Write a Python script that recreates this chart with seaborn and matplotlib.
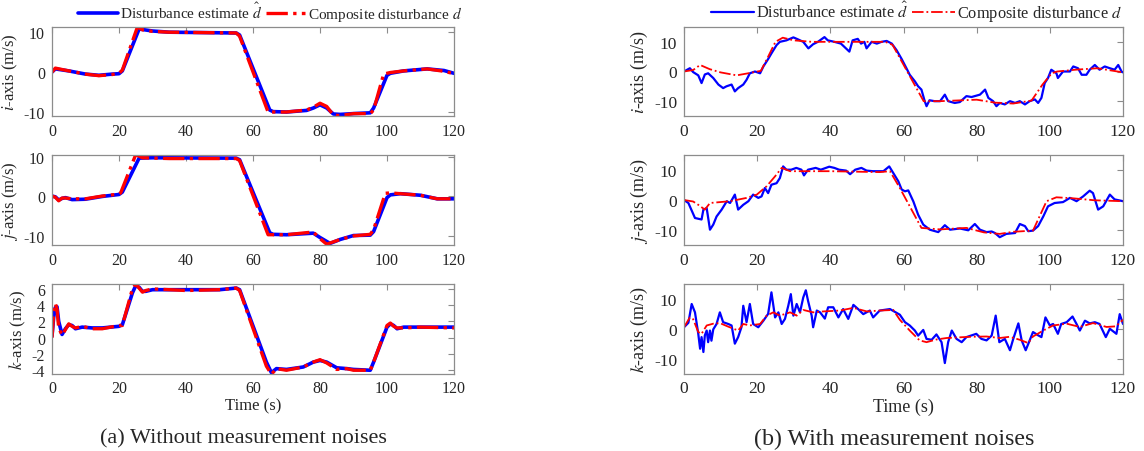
import matplotlib
matplotlib.use('Agg')
import matplotlib.pyplot as plt
import seaborn as sns
from matplotlib.lines import Line2D

# ---------------- data ----------------
# (a) without measurement noises
LI_T_B = [0,1,5,10,14,18,20,21,26,30,35,45,55,56,65,66,70,76,78,80,82,84,86,90,95,96,100,101,105,112,117,120]
LI_B = [0,0.8,0.3,-0.5,-0.8,-0.5,-0.4,0.3,10.8,10.3,10.0,9.9,9.8,9.3,-9.5,-9.9,-10,-9.6,-9.0,-8.2,-9.0,-10.5,-10.6,-10.4,-10.2,-9.0,-0.8,-0.3,0.3,0.8,0.4,-0.3]
LI_T_R = [0,1,5,10,14,18,20,21,25.5,27,30,35,55,56,64.5,66,70,76,78,80,82,84,86,90,95,96,99,101,105,112,117,120]
LI_R = [0,1.0,0.3,-0.5,-0.9,-0.6,-0.3,0.5,11.3,10.6,10.2,10.0,9.8,9.0,-10.0,-10.0,-10.0,-9.5,-8.8,-7.8,-8.6,-10.8,-10.9,-10.4,-10.4,-9.5,-0.5,-0.1,0.3,0.8,0.2,-0.4]

LJ_T_B = [0,1,2,3,4,6,10,15,20,21,26,30,55,56,65,66,70,78,80,83,86,90,95,96,100,101,104,110,115,120]
LJ_B = [0,-0.2,-1.0,-0.6,-0.4,-0.9,-0.8,-0.1,0.4,1.0,9.6,9.7,9.6,9.2,-9.3,-9.7,-9.8,-9.4,-10.5,-12.0,-11.0,-10.0,-9.9,-9.0,-0.4,0.3,0.6,0.2,-0.7,-0.7]
LJ_T_R = [0,1,2,3,4,6,10,15,20,20.5,25,27,35,55,56,64.5,70,78,80,82,86,90,95,96,99.5,101,104,110,115,120]
LJ_R = [0,-0.3,-1.2,-0.5,-0.5,-0.7,-0.7,0.0,0.5,0.8,10.5,9.7,9.5,9.5,9.0,-9.8,-9.8,-9.1,-10.8,-12.2,-11.0,-10.1,-9.7,-8.5,0.7,0.8,0.6,0.2,-0.7,-0.7]

LK_T = [0,0.5,1,1.5,2,3,4,5,6,7,9,12,15,20,21,24,25,26,27,28,30,40,50,55,56,64,65.5,67,70,75,78,80,82,85,88,90,95,96,100,101,102,103,105,110,120]
LK_B = [0.2,2.5,3.7,3.8,2.0,0.4,1.1,1.6,1.5,1.1,1.3,1.2,1.2,1.4,1.6,5.5,6.4,6.2,5.7,5.7,5.9,5.9,5.9,6.1,5.9,-3.0,-4.3,-3.8,-3.9,-3.6,-3.0,-2.8,-3.0,-3.7,-3.8,-3.9,-4.0,-3.0,1.3,1.7,1.5,1.1,1.3,1.3,1.3]
LK_R = [0.0,3.0,4.2,3.5,1.2,0.3,1.0,1.7,1.4,1.2,1.4,1.1,1.1,1.5,1.5,6.0,6.6,6.1,5.6,5.8,6.0,5.8,5.9,6.1,5.8,-3.5,-4.5,-3.8,-4.0,-3.6,-3.0,-2.7,-3.1,-3.9,-3.8,-4.0,-4.0,-3.0,1.5,1.8,1.4,1.2,1.2,1.3,1.2]

# (b) with measurement noises
RI_T_B = [0,1.6,2.5,3.9,4.8,5.7,6.6,8.0,9.4,10.7,11.6,13.0,13.9,14.8,16.2,17.1,18.0,19.4,20.8,21.7,
          23.0,23.9,25.3,26.2,28.0,29.9,31.2,32.6,34.0,35.3,36.6,38.4,39.3,41.1,42.9,45.2,46.1,47.5,48.4,49.3,
          49.9,51.3,52.7,54.0,55.4,56.8,58.1,59.5,60.8,61.7,63.1,64.0,64.9,65.8,66.3,67.1,68.5,70.0,71.3,72.2,
          74.0,75.4,77.2,78.6,80.9,82.3,83.2,84.5,85.4,86.3,87.7,89.1,90.5,91.8,93.2,94.5,95.9,96.8,97.7,98.6,
          99.5,100.4,101.8,102.2,103.6,105.5,106.4,107.7,108.7,110.0,110.9,112.3,113.6,115.0,116.4,117.7,118.7,119.6,120]
RI_B = [0,1.1,-0.2,-1.3,-3.9,-1.0,-0.6,-2.2,-4.4,-5.6,-5.0,-4.4,-6.7,-5.6,-4.4,-2.8,-0.6,0,-0.6,1.7,
        4.2,6.1,8.9,10.0,10.5,11.5,10.8,10.0,7.8,9.2,10.0,11.6,10.5,10.0,9.4,6.7,10.5,11.0,9.4,10.0,
        7.8,10.0,9.4,10.0,10.3,9.4,7.2,4.2,1.1,-1.1,-3.3,-5.0,-6.1,-10.0,-11.7,-9.7,-10.0,-10.0,-7.8,-10.0,
        -10.6,-10.3,-8.3,-8.6,-7.8,-6.1,-8.9,-10.0,-11.7,-10.6,-11.1,-10.0,-10.6,-10.0,-11.1,-10.0,-9.4,-10.6,-8.9,-3.9,
        -2.2,0.6,-0.6,-2.2,0,0,1.7,1.1,-1.1,-1.1,0.6,2.2,0.6,1.7,1.1,0.6,2.2,0,-0.3]
RI_T_R = [0,2.5,4.4,7,10,14.4,18,20,21,23,25,27,30,35,55,57,65.5,70,80,85,90,95,98,100.5,102,107,113,120]
RI_R = [0,0.5,2.2,0.8,-0.3,-1.3,-0.5,0,0.2,5,10,11.4,10.5,10,10,9,-10,-10,-9.5,-10.5,-10.8,-9.8,-4.4,-0.6,0,0.6,1.1,-0.3]

RJ_T_B = [0,1.2,3.0,4.8,5.3,6.2,7.1,8.0,8.9,10.3,11.7,12.6,13.9,14.8,16.2,17.6,18.9,20.3,21.2,22.1,
          23.0,23.9,25.3,26.2,27.1,28.0,29.3,30.7,32.1,32.8,33.9,36.0,37.4,39.7,41.1,42.4,44.3,45.4,46.8,48.5,
          49.9,51.7,54.5,56.1,57.2,58.6,59.5,60.4,61.3,62.7,64.0,65.4,67.2,69.5,71.3,72.7,75.4,77.7,79.5,80.9,
          82.7,84.1,85.0,86.3,88.1,90.5,91.8,93.2,94.1,95.4,96.8,98.2,99.5,101.3,103.6,105.5,107.3,109.1,110.9,111.8,
          113.2,114.6,116.4,117.7,120]
RJ_B = [0,-1.0,-6.0,-6.5,-3.2,-2.7,-9.9,-8.2,-5.5,-3.2,-0.4,-1.0,1.8,-3.2,-1.6,-0.4,1.8,0.7,1.2,4.0,
        2.3,5.1,5.6,7.3,11.2,10.1,10.1,10.7,10.1,8.2,10.1,10.7,10.1,11.1,10.7,10.1,9.8,8.6,10.1,10.7,
        9.8,9.6,9.6,11.2,9.0,6.2,3.5,2.9,3.2,-0.5,-4.9,-8.2,-9.9,-10.7,-8.4,-9.9,-9.5,-10.1,-8.0,-9.9,
        -10.7,-10.5,-11.0,-12.4,-11.3,-11.0,-8.0,-8.7,-10.4,-10.2,-8.7,-5.5,-2.1,-1.0,-0.7,0.7,-0.4,1.2,3.1,2.3,
        -3.2,-2.1,1.8,0.2,-0.4]
RJ_T_R = [0,2.5,3.9,5.7,7.1,12.6,17.1,19.9,22.6,24.9,26.7,29,40,53.5,56.3,59,64.9,70,77.2,82,86.3,90,95.4,99.1,101.8,106,112.3,120]
RJ_R = [0,-0.5,-1.6,-3.2,-1.0,-0.4,0.7,1.8,4.6,7.9,10.7,9.6,9.6,9.3,9.6,4.0,-9.3,-9.8,-9.3,-10.8,-11.3,-10.6,-10.2,-0.4,0.9,0.6,-0.1,-0.4]

RK_T_B = [0,1.2,2.1,3.0,3.9,4.4,4.8,5.3,5.7,6.2,6.6,7.1,7.5,8.0,8.9,9.8,10.7,12.1,13.0,13.9,
          14.8,15.7,16.2,17.1,18.0,18.9,20.3,21.7,23.0,23.9,24.9,25.8,26.7,27.6,28.5,29.2,29.9,30.8,31.7,32.6,
          33.3,33.9,34.9,35.3,36.3,37.2,38.5,39.4,40.8,42.2,43.5,44.9,46.3,47.6,49.0,50.8,51.7,53.5,56.3,59.0,
          60.4,61.7,63.1,64.0,65.4,66.3,67.7,69.0,70.4,71.3,72.2,73.2,74.5,75.9,77.2,79.9,81.3,82.7,84.1,85.2,
          86.2,87.7,89.1,90.0,91.4,92.3,93.4,94.3,95.4,96.8,97.7,98.8,100.0,100.9,102.2,103.1,104.6,106.2,107.3,108.2,
          109.6,110.9,112.3,113.6,115.3,116.4,118.2,119.1,120]
RK_B = [0.5,2.0,8.3,5.5,-1.7,-6.7,-2.8,-7.8,-2.2,-0.6,-4.5,-0.6,-4.0,-0.2,1.6,5.5,2.2,1.6,1.1,-5.0,
        -2.8,0.5,7.7,2.2,8.3,1.6,0.5,2.7,5.0,12.2,3.8,5.5,1.6,3.3,7.7,11.6,4.4,8.3,5.5,10.5,
        12.9,9.4,4.4,0.5,6.1,5.5,3.4,7.2,7.2,3.8,6.6,3.3,8.0,6.6,4.9,6.1,3.8,6.1,6.6,4.7,
        2.2,1.1,-0.6,-2.3,-0.4,-3.4,-3.7,-1.9,-4.5,-11.5,-4.5,-0.6,-3.4,-4.5,-2.8,-1.7,-3.4,-3.9,-2.3,4.4,
        -4.5,-3.4,-7.2,-3.4,1.8,-3.9,-7.2,-4.5,-1.1,-2.2,-2.8,3.8,1.1,1.6,-1.7,1.6,2.2,4.1,1.6,-0.6,
        2.7,1.8,2.2,1.6,-2.8,0.0,-1.7,4.9,1.6]
RK_T_R = [0,1.6,2.5,3.9,4.8,6.2,8.0,9.8,12.1,14.8,16.2,18.0,20.8,22.6,24.4,26.2,29.0,30.8,32.6,35.3,
          38.0,42.6,46.3,50.0,53.5,57.2,59.0,61.7,64.4,66.3,69.0,71.8,75.0,78.0,82.7,86.3,89.0,91.8,94.1,95.4,
          98.2,100.9,104.6,108.2,111.8,115.5,118.0,120]
RK_R = [0.5,3.8,3.2,-1.1,-1.7,1.1,1.7,1.9,0.7,-0.6,1.6,1.1,1.6,4.4,5.5,4.4,5.5,4.4,6.3,5.5,
        5.8,6.1,7.0,5.8,6.1,6.3,3.0,-0.6,-3.9,-4.5,-3.6,-3.1,-2.9,-2.7,-2.6,-3.1,-2.7,-3.7,-4.8,-2.6,
        -0.6,1.1,1.7,0.6,1.9,0.6,0.8,3.0]

X_TICKS = [0, 20, 40, 60, 80, 100, 120]
Y_LABELS = ['$i$-axis (m/s)', '$j$-axis (m/s)', '$k$-axis (m/s)']
LEGEND_LABELS = ['Disturbance estimate $\\hat{d}$', 'Composite disturbance $d$']
CAPTIONS = ['(a) Without measurement noises', '(b) With measurement noises']

# ---------------- styling ----------------
sns.set_theme(style='white')
plt.rcParams['font.family'] = ['Liberation Serif', 'DejaVu Serif']
plt.rcParams['mathtext.fontset'] = 'stix'
plt.rcParams['axes.unicode_minus'] = False

BLUE = '#0000FF'
RED = '#FF0000'
SPINE = '#8c8c8c'
TXT = '#262626'

fig = plt.figure(figsize=(11.44, 4.52), dpi=100)
W, H = 1144.0, 452.0

def axes_at(x0, x1, y0, y1):
    return fig.add_axes([x0 / W, 1 - y1 / H, (x1 - x0) / W, (y1 - y0) / H])

rows = [(28, 117), (156, 246), (285, 374.5)]
left_axes = [axes_at(52, 454, r0, r1) for r0, r1 in rows]
right_axes = [axes_at(684, 1123, r0, r1) for r0, r1 in rows]

left_data = [(LI_T_B, LI_B, LI_T_R, LI_R), (LJ_T_B, LJ_B, LJ_T_R, LJ_R), (LK_T, LK_B, LK_T, LK_R)]
right_data = [(RI_T_B, RI_B, RI_T_R, RI_R), (RJ_T_B, RJ_B, RJ_T_R, RJ_R), (RK_T_B, RK_B, RK_T_R, RK_R)]
left_ylims = [(-11, 11.3), (-12.4, 10.4), (-4.4, 6.6)]
left_yticks = [[-10, 0, 10], [-10, 0, 10], [-4, -2, 0, 2, 4, 6]]


def style(ax, tick_fs, label_fs, ylabel, ylim, yticks):
    ax.set_xlim(0, 120)
    ax.set_ylim(*ylim)
    ax.set_xticks(X_TICKS)
    ax.set_yticks(yticks)
    ax.tick_params(direction='in', top=True, right=True, length=4, width=0.8,
                   colors=SPINE, labelcolor=TXT, labelsize=tick_fs, pad=5)
    for s in ax.spines.values():
        s.set_color(SPINE)
        s.set_linewidth(0.9)
    ax.set_ylabel(ylabel, fontsize=label_fs, color=TXT, labelpad=3)
    ax.set_xlabel('')


for ax, (tb, vb, tr, vr), yl, ylim, yt in zip(left_axes, left_data, Y_LABELS, left_ylims, left_yticks):
    sns.lineplot(x=tb, y=vb, ax=ax, color=BLUE, lw=2.6, estimator=None, sort=False, legend=False)
    sns.lineplot(x=tr, y=vr, ax=ax, color=RED, lw=2.4, linestyle='-.', estimator=None, sort=False, legend=False)
    style(ax, 11.5, 12, yl, ylim, yt)

for ax, (tb, vb, tr, vr), yl in zip(right_axes, right_data, Y_LABELS):
    sns.lineplot(x=tb, y=vb, ax=ax, color=BLUE, lw=1.6, estimator=None, sort=False, legend=False)
    sns.lineplot(x=tr, y=vr, ax=ax, color=RED, lw=1.3, linestyle='-.', estimator=None, sort=False, legend=False)
    style(ax, 12.5, 13, yl, (-15, 15), [-10, 0, 10])

left_axes[2].set_xlabel('Time (s)', fontsize=12, color=TXT, labelpad=1)
right_axes[2].set_xlabel('Time (s)', fontsize=13, color=TXT, labelpad=1)

# legends
lh = [Line2D([], [], color=BLUE, lw=2.6), Line2D([], [], color=RED, lw=2.4, linestyle='-.')]
fig.legend(lh, LEGEND_LABELS, loc='center', bbox_to_anchor=(270 / W, 1 - 13 / H), ncol=2,
           frameon=False, fontsize=11, handlelength=2.6, handletextpad=0.15, columnspacing=0.2,
           borderpad=0, labelcolor=TXT)
rh = [Line2D([], [], color=BLUE, lw=1.6), Line2D([], [], color=RED, lw=1.3, linestyle='-.')]
fig.legend(rh, LEGEND_LABELS, loc='center', bbox_to_anchor=(917 / W, 1 - 13 / H), ncol=2,
           frameon=False, fontsize=11.8, handlelength=2.6, handletextpad=0.15, columnspacing=0.2,
           borderpad=0, labelcolor=TXT)

fig.text(243 / W, 1 - 439 / H, CAPTIONS[0], ha='center', va='center', fontsize=16, color=TXT)
fig.text(894 / W, 1 - 439 / H, CAPTIONS[1], ha='center', va='center', fontsize=17.3, color=TXT)

fig.savefig('out.png', dpi=100, facecolor='white')
